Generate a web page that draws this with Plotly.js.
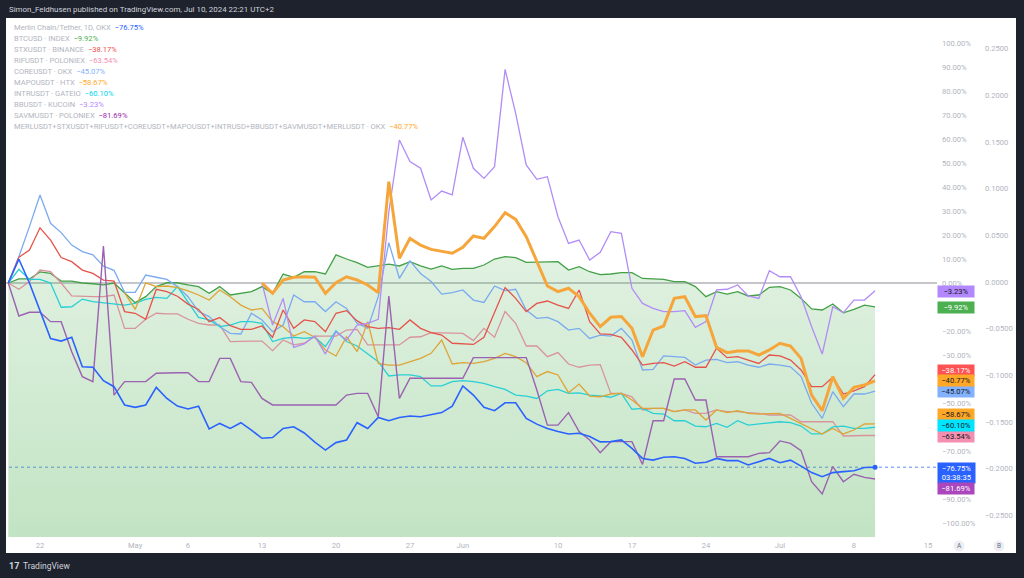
<!DOCTYPE html>
<html><head><meta charset="utf-8">
<script src="https://cdn.plot.ly/plotly-3.0.1.min.js"></script>
<style>html,body{margin:0;padding:0;background:#1e222d;overflow:hidden}#chart{width:1024px;height:578px}</style>
</head><body><div id="chart"></div>
<script>
// ---------------- DATA (percent change, daily from 2024-04-19) ----------------
const startDay = '2024-04-19';

const merlin = [
  0, 9.9, 0, -11.9, -23.1, -24.2, -22.6, -34.9, -35.1, -40.7,
  -43.2, -50.8, -51.8, -50.8, -43.5, -48.1, -51.3, -52.5, -51.3, -60.8,
  -58.5, -60.6, -58.2, -61.3, -64.7, -64.4, -60.6, -59.9, -62.5, -66.3,
  -69.6, -66.5, -65.4, -58.2, -60.6, -56.0, -57.4, -56.0, -55.4, -55.7,
  -55.0, -54.0, -51.3, -42.9, -46.7, -51.8, -53.2, -49.9, -49.9, -56.4,
  -58.8, -60.6, -61.9, -62.9, -62.6, -64.0, -66.2, -66.1, -65.4, -68.9,
  -73.1, -73.8, -72.6, -72.4, -73.1, -75.1, -74.7, -73.1, -74.0, -74.0,
  -75.8, -74.4, -73.1, -74.9, -73.8, -76.3, -79.0, -80.7, -79.0, -78.6,
  -78.2, -76.9, -76.75];

const btc = [
  0, 1.7, 1.7, 4.6, 4.0, 0.8, 0.8, 0, -0.3, -0.8,
  0, -4.3, -8.2, -5.7, -1.5, 0.1, 0.1, -0.8, -1.5, -4.3,
  -1.5, -5.0, -4.3, -3.6, -1.5, -4.3, 3.75, 2.4, 4.7, 4.7,
  3.75, 11.7, 10.0, 8.5, 6.5, 7.1, 7.9, 7.1, 8.9, 7.1,
  5.8, 7.1, 5.7, 6.1, 6.1, 7.5, 10.0, 11.0, 10.6, 8.6,
  8.6, 8.9, 8.9, 5.4, 6.8, 4.7, 3.5, 3.75, 4.3, 4.3,
  1.9, 1.7, 1.5, 0.6, 0.6, -1.5, -5.7, -3.6, -4.6, -3.6,
  -5.4, -5.0, -1.8, -1.5, -2.9, -6.4, -10.8, -11.25, -8.75, -12.4,
  -11.0, -9.2, -9.92];

const stx = [
  0, 10.7, 13.75, 23.0, 17.9, 10.6, 8.9, 5.4, 4.0, 1.2,
  0.8, -11.9, -12.6, -15.1, -2.6, -3.6, -5.5, -8.8, -11.0, -16.1,
  -14.4, -17.8, -19.3, -19.3, -17.9, -22.6, -11.25, -18.9, -15.4, -16.1,
  -20.3, -12.6, -11.5, -15.8, -18.2, -18.9, -18.6, -19.3, -15.4, -18.9,
  -20.7, -21.7, -25.1, -25.4, -25.6, -22.6, -12.6, -1.9, -6.4, -11.9,
  -8.5, -7.5, -9.2, -10.6, -2.9, -16.1, -21.2, -21.4, -22.6, -27.9,
  -34.2, -33.5, -33.2, -34.6, -32.8, -35.1, -35.1, -27.2, -31.1, -30.7,
  -32.1, -33.5, -30.0, -30.4, -32.1, -36.25, -43.2, -43.2, -39.3, -46.25,
  -44.9, -43.2, -38.17];

const rif = [
  0, -2.6, 0.6, 5.4, 4.7, 0, -5.4, -5.7, -5.7, -5.7,
  -5.0, -18.9, -18.9, -15.1, -12.6, -12.9, -12.9, -15.1, -16.8, -17.5,
  -17.5, -24.4, -24.2, -24.2, -24.2, -28.2, -23.75, -25.8, -25.1, -22.1,
  -22.1, -22.1, -19.6, -19.3, -25.8, -25.8, -25.8, -25.8, -22.6, -22.4,
  -20.7, -20.7, -21.0, -21.0, -24.0, -18.9, -22.6, -11.9, -16.8, -26.25,
  -26.25, -30.7, -29.0, -33.75, -35.1, -34.2, -34.0, -46.0, -46.0, -47.4,
  -52.9, -52.2, -52.2, -53.6, -52.9, -54.3, -54.3, -52.9, -53.6, -53.6,
  -54.0, -54.3, -55.0, -55.0, -55.0, -57.8, -57.8, -57.8, -57.8, -63.75,
  -63.54, -63.54, -63.54];

const core = [
  0, 11.0, 23.5, 36.7, 24.9, 21.0, 15.8, 13.1, 11.7, 7.0,
  5.3, -3.9, -3.9, 3.3, 2.4, 1.5, -1.5, -5.7, -11.9, -14.0,
  -18.2, -21.0, -21.25, -12.6, -15.4, -20.3, -17.5, -5.0, -7.8, -7.8,
  -11.9, -7.8, -10.6, -16.8, -18.9, -5.7, 16.8, 1.9, 9.2, 4.0,
  0.6, -4.6, -4.0, -2.9, -7.1, -8.1, -1.25, -3.2, -2.6, -11.25,
  -14.7, -14.3, -16.1, -19.6, -18.9, -23.1, -21.7, -22.1, -18.9, -23.75,
  -36.25, -36.0, -30.4, -30.7, -31.0, -34.2, -32.1, -31.8, -33.2, -32.8,
  -34.2, -35.1, -33.75, -34.2, -34.9, -39.0, -50.1, -56.4, -45.3, -51.5,
  -46.25, -46.25, -45.07];

const mapo = [
  null, null, null, null, null, null, null, null, null, null,
  null, -4.0, -11.0, 0.1, -1.5, -1.25, -1.9, -3.3, -5.0, -7.1,
  -2.9, -5.7, -9.2, -11.25, -10.6, -16.1, -18.2, -22.1, -20.3, -22.6,
  -27.9, -30.4, -22.4, -28.6, -16.1, -33.5, -34.2, -34.2, -32.8, -31.4,
  -29.3, -23.75, -33.75, -33.2, -33.5, -32.8, -31.4, -29.3, -30.7, -33.2,
  -39.0, -36.9, -38.3, -45.7, -42.1, -47.1, -47.4, -46.25, -46.0, -48.75,
  -52.2, -52.2, -52.2, -53.6, -52.9, -52.9, -57.1, -52.9, -54.0, -53.2,
  -54.3, -54.6, -54.6, -54.3, -56.4, -58.5, -60.6, -62.9, -60.6, -62.9,
  -61.25, -58.75, -58.67];

const intr = [
  0, 5.7, 1.5, 1.5, 0, -10.1, -9.9, -6.7, -7.8, -8.2,
  -8.75, -9.2, -8.5, -6.8, -6.0, -6.4, -1.5, -8.0, -14.3, -15.4,
  -18.2, -17.5, -16.1, -16.1, -16.8, -24.4, -23.1, -22.6, -23.1, -22.6,
  -26.5, -19.9, -24.4, -26.25, -29.6, -32.8, -38.75, -38.3, -38.3, -39.0,
  -42.9, -42.9, -41.1, -40.7, -41.1, -41.8, -43.2, -44.3, -46.7, -47.1,
  -48.1, -44.9, -44.3, -46.0, -45.8, -46.7, -47.0, -47.6, -46.0, -52.6,
  -52.2, -54.3, -54.6, -57.4, -57.4, -59.6, -59.9, -58.5, -60.1, -57.4,
  -59.2, -58.75, -58.5, -57.8, -58.2, -59.6, -62.9, -62.9, -59.9, -59.6,
  -60.6, -60.6, -60.10];

const bb = [
  null, null, null, null, null, null, null, null, null, null,
  null, null, null, null, null, null, null, null, null, null,
  null, null, null, null, 0, -17.5, -6.4, -26.8, -25.4, -22.1,
  -29.6, -20.3, -23.75, -17.5, -16.8, -15.1, 29.7, 59.6, 50.6, 47.8,
  34.6, 38.3, 36.7, 60.7, 47.8, 43.6, 48.5, 89.0, 70.7, 49.2,
  43.2, 44.3, 27.6, 16.5, 17.9, 9.6, 12.8, 21.4, 20.7, -2.2,
  -8.5, -10.6, -11.9, -11.9, -11.5, -18.5, -16.1, -2.9, -2.6, -0.8,
  -5.4, -6.4, 5.1, 2.6, 2.6, -5.7, -18.2, -29.6, -9.9, -12.4,
  -7.1, -7.1, -3.23];

const savm = [
  0, -13.75, -12.2, -12.2, -16.1, -16.1, -28.6, -39.0, -41.1, 15.4,
  -46.7, -41.1, -41.1, -41.1, -37.6, -37.4, -37.4, -37.4, -41.1, -41.1,
  -31.4, -31.4, -41.1, -41.4, -48.1, -50.8, -50.8, -50.8, -50.8, -50.8,
  -50.8, -50.8, -46.7, -46.0, -46.0, -55.7, -5.4, -48.1, -39.7, -39.7,
  -39.7, -39.7, -39.7, -39.7, -31.1, -31.1, -31.1, -31.1, -31.1, -31.1,
  -44.6, -59.2, -59.2, -54.0, -61.9, -65.4, -70.7, -66.1, -66.1, -66.1,
  -75.6, -57.4, -57.4, -40.0, -40.0, -48.75, -48.75, -72.4, -72.4, -72.4,
  -72.4, -71.0, -70.7, -65.8, -66.8, -69.9, -82.8, -87.9, -76.5, -82.8,
  -79.7, -81.0, -81.69];

const merlSpread = [
  null, null, null, null, null, null, null, null, null, null,
  null, null, null, null, null, null, null, null, null, null,
  null, null, null, null, 0, -4.3, 1.25, 2.4, 2.6, 2.4,
  -4.3, 0.1, 2.6, 1.25, -0.8, -4.0, 42.2, 10.3, 18.6, 15.8,
  14.0, 13.1, 12.4, 14.9, 19.6, 18.6, 23.5, 29.3, 26.5, 19.3,
  8.9, -1.25, -3.6, -2.2, -5.7, -12.6, -18.2, -14.3, -14.0, -18.9,
  -30.7, -19.6, -17.9, -6.4, -5.7, -14.0, -13.6, -26.8, -29.0, -28.3,
  -28.3, -30.0, -27.9, -25.1, -26.25, -31.4, -46.7, -53.2, -39.0, -48.1,
  -43.5, -42.5, -40.77];

const seriesLabels = {
  merlin: 'Merlin Chain/Tether, 1D, OKX',
  btc: 'BTCUSD · INDEX',
  stx: 'STXUSDT · BINANCE',
  rif: 'RIFUSDT · POLONIEX',
  core: 'COREUSDT · OKX',
  mapo: 'MAPOUSDT · HTX',
  intr: 'INTRUSDT · GATEIO',
  bb: 'BBUSDT · KUCOIN',
  savm: 'SAVMUSDT · POLONIEX',
  merlSpread: 'MERLUSDT+STXUSDT+RIFUSDT+COREUSDT+MAPOUSDT+INTRUSD+BBUSDT+SAVMUSDT+MERLUSDT · OKX'
};
const legendOrder = ['merlin','btc','stx','rif','core','mapo','intr','bb','savm','merlSpread'];
const drawOrder = ['rif','core','intr','mapo','stx','bb','savm','merlSpread','merlin'];
const xTickDates = ['2024-04-22','2024-05-01','2024-05-06','2024-05-13','2024-05-20','2024-05-27','2024-06-01','2024-06-10','2024-06-17','2024-06-24','2024-07-01','2024-07-08','2024-07-15'];
const xTickText = ['22','May','6','13','20','27','Jun','10','17','24','Jul','8','15'];
const pctTicks = [100,90,80,70,60,50,40,30,20,10,0,-20,-30,-50,-70,-90,-100];
const priceTicks = [0.25,0.2,0.15,0.1,0.05,0,-0.05,-0.1,-0.15,-0.2,-0.25];
const countdown = '03:38:35';

// ---------------- STYLE ----------------
const DATA = {merlin, btc, stx, rif, core, mapo, intr, bb, savm, merlSpread};
const STYLE = {
  merlin:     {line:'#2962ff', accent:'#2962ff', badgeFg:'#ffffff', badgeY:472.5, w:1.6},
  btc:        {line:'#43a047', accent:'#4caf50', badgeFg:'#ffffff', badgeY:307.3, w:1.3},
  stx:        {line:'#e5534b', accent:'#f25050', badgeBg:'#ff5252', badgeFg:'#ffffff', badgeY:370, w:1.3},
  rif:        {line:'#d9939d', accent:'#f48fb1', badgeFg:'#131722', badgeY:436.7, w:1.3},
  core:       {line:'#7aaaf0', accent:'#82b1ff', badgeFg:'#131722', badgeY:392, w:1.3},
  mapo:       {line:'#dea437', accent:'#ffa726', badgeFg:'#131722', badgeY:414.3, w:1.3},
  intr:       {line:'#28d0d6', accent:'#00d8f0', badgeBg:'#00e5ff', badgeFg:'#131722', badgeY:425.7, w:1.3},
  bb:         {line:'#b28cf6', accent:'#b388ff', badgeFg:'#131722', badgeY:291.3, w:1.3},
  savm:       {line:'#9a62b0', accent:'#9c27b0', badgeBg:'#ab47bc', badgeFg:'#ffffff', badgeY:488.3, w:1.4},
  merlSpread: {line:'#f6a53a', accent:'#ffa726', badgeFg:'#131722', badgeY:381, w:3}
};
const FONT = 'Roboto, "Liberation Sans", Arial, sans-serif';
const GRAY = '#b2b5be';

// pixel helpers (paper spans 6..1016 x 18..553)
const PL = 6, PR = 1016, PT = 18, PB = 553, PLOT_R = 937, PLOT_B = 537;
const X = px => (px - PL) / (PR - PL);
const Y = py => (PB - py) / (PB - PT);
const Y_RANGE = [-105.83, 110.42];
const Y2_RANGE = [-0.27302, 0.28266];

const t0 = Date.parse(startDay + 'T00:00:00Z');
const dates = merlin.map((_, i) => new Date(t0 + i * 86400000).toISOString().slice(0, 10));
const fmt = v => (v < 0 ? '\u2212' : '') + Math.abs(v).toFixed(2) + '%';
const last = a => a[a.length - 1];

// ---------------- TRACES ----------------
const traces = [];
traces.push({x: dates, y: dates.map(() => Y_RANGE[0]), mode: 'lines', line: {width: 0}, hoverinfo: 'skip', showlegend: false});
traces.push({
  x: dates, y: btc, mode: 'lines', fill: 'tonexty',
  fillcolor: 'rgba(76,175,80,0.25)',
  fillgradient: {type: 'vertical', start: Y_RANGE[0], stop: 12,
    colorscale: [[0, 'rgba(76,175,80,0.34)'], [1, 'rgba(76,175,80,0.17)']]},
  line: {color: STYLE.btc.line, width: STYLE.btc.w}, showlegend: false
});
drawOrder.forEach(k => {
  traces.push({x: dates, y: DATA[k], mode: 'lines', connectgaps: false,
    line: {color: STYLE[k].line, width: STYLE[k].w}, showlegend: false});
});
traces.push({x: [last(dates)], y: [last(merlin)], mode: 'markers',
  marker: {color: STYLE.merlin.line, size: 5}, showlegend: false});
// invisible trace for the secondary price axis
traces.push({x: [dates[0]], y: [0], yaxis: 'y2', mode: 'markers', marker: {opacity: 0}, showlegend: false, hoverinfo: 'skip'});

// ---------------- ANNOTATIONS ----------------
const ann = [];
ann.push({xref: 'paper', yref: 'paper', x: X(6.5), y: Y(9), xanchor: 'left', yanchor: 'middle', showarrow: false,
  text: 'Simon_Feldhusen published on TradingView.com, Jul 10, 2024 22:21 UTC+2',
  font: {family: FONT, size: 7.9, color: '#d1d4dc'}});
legendOrder.forEach((k, i) => {
  ann.push({xref: 'paper', yref: 'paper', x: X(11.5), y: Y(27.3 + i * 11.05), xanchor: 'left', yanchor: 'middle', showarrow: false,
    text: seriesLabels[k] + '\u00a0\u00a0<span style="color:' + STYLE[k].accent + '">' + fmt(last(DATA[k])) + '</span>',
    font: {family: FONT, size: 7.6, color: GRAY}});
});
legendOrder.forEach(k => {
  const s = STYLE[k];
  const two = k === 'merlin';
  ann.push({xref: 'paper', yref: 'paper', x: X(936.7), y: Y(s.badgeY), xanchor: 'left', yanchor: 'middle', showarrow: false,
    text: fmt(last(DATA[k])) + (two ? '<br>' + countdown : ''),
    bgcolor: s.badgeBg || s.accent, borderpad: 1, width: two ? 35 : 34, height: two ? 18 : 8.5, align: 'center',
    font: {family: FONT, size: 7.6, color: s.badgeFg}});
});
ann.push({xref: 'paper', yref: 'paper', x: X(7), y: Y(566), xanchor: 'left', yanchor: 'middle', showarrow: false,
  text: '<b>17</b>', font: {family: FONT, size: 9, color: '#d1d4dc'}});
ann.push({xref: 'paper', yref: 'paper', x: X(21), y: Y(566), xanchor: 'left', yanchor: 'middle', showarrow: false,
  text: 'TradingView', font: {family: FONT, size: 8.5, color: '#d1d4dc'}});
[['A', 959], ['B', 999]].forEach(([t, px]) => {
  ann.push({xref: 'paper', yref: 'paper', x: X(px), y: Y(546), xanchor: 'center', yanchor: 'middle', showarrow: false,
    text: t, font: {family: FONT, size: 6.5, color: '#6a6d78'}});
});

// ---------------- SHAPES ----------------
const shapes = [
  {type: 'rect', xref: 'paper', yref: 'paper', x0: 0, x1: 1, y0: 0, y1: 1, fillcolor: '#ffffff', line: {width: 0}, layer: 'below'},
  {type: 'line', xref: 'paper', yref: 'y', x0: 0, x1: X(PLOT_R), y0: 0, y1: 0, line: {color: '#8a8d96', width: 1}, layer: 'below'},
  {type: 'line', xref: 'paper', yref: 'y', x0: X(9), x1: X(PLOT_R), y0: last(merlin), y1: last(merlin), line: {color: 'rgba(41,98,255,0.75)', width: 1, dash: 'dot'}, layer: 'below'},
  {type: 'circle', xref: 'paper', yref: 'paper', x0: X(953.5), x1: X(964.5), y0: Y(551.5), y1: Y(540.5), fillcolor: '#eceef3', line: {width: 0}},
  {type: 'circle', xref: 'paper', yref: 'paper', x0: X(993.5), x1: X(1004.5), y0: Y(551.5), y1: Y(540.5), fillcolor: '#eceef3', line: {width: 0}}
];

const layout = {
  width: 1024, height: 578,
  margin: {l: PL, r: 1024 - PR, t: PT, b: 578 - PB, pad: 0},
  paper_bgcolor: '#1e222d', plot_bgcolor: 'rgba(0,0,0,0)',
  font: {family: FONT, color: GRAY},
  showlegend: false,
  xaxis: {type: 'date', domain: [0, X(PLOT_R)], range: ['2024-04-18 18:46', '2024-07-15 20:38'],
    tickvals: xTickDates, ticktext: xTickText, showgrid: false, zeroline: false, showline: false, ticks: '',
    tickfont: {family: FONT, size: 7.6, color: GRAY}, ticklabelstandoff: 2, fixedrange: true},
  yaxis: {domain: [Y(PLOT_B), 1], range: Y_RANGE, side: 'right', anchor: 'x',
    tickvals: pctTicks, ticktext: pctTicks.map(fmt), showgrid: false, zeroline: false, showline: false, ticks: '',
    tickfont: {family: FONT, size: 7.6, color: GRAY}, ticklabelstandoff: 4, fixedrange: true},
  yaxis2: {overlaying: 'y', range: Y2_RANGE, side: 'right', anchor: 'free', position: X(982),
    tickvals: priceTicks, tickformat: '.4f', showgrid: false, zeroline: false, showline: false, ticks: '',
    tickfont: {family: FONT, size: 7.6, color: GRAY}, ticklabelstandoff: 2, fixedrange: true},
  shapes: shapes,
  annotations: ann
};

Plotly.newPlot('chart', traces, layout, {staticPlot: true, displayModeBar: false});
</script>
</body></html>
